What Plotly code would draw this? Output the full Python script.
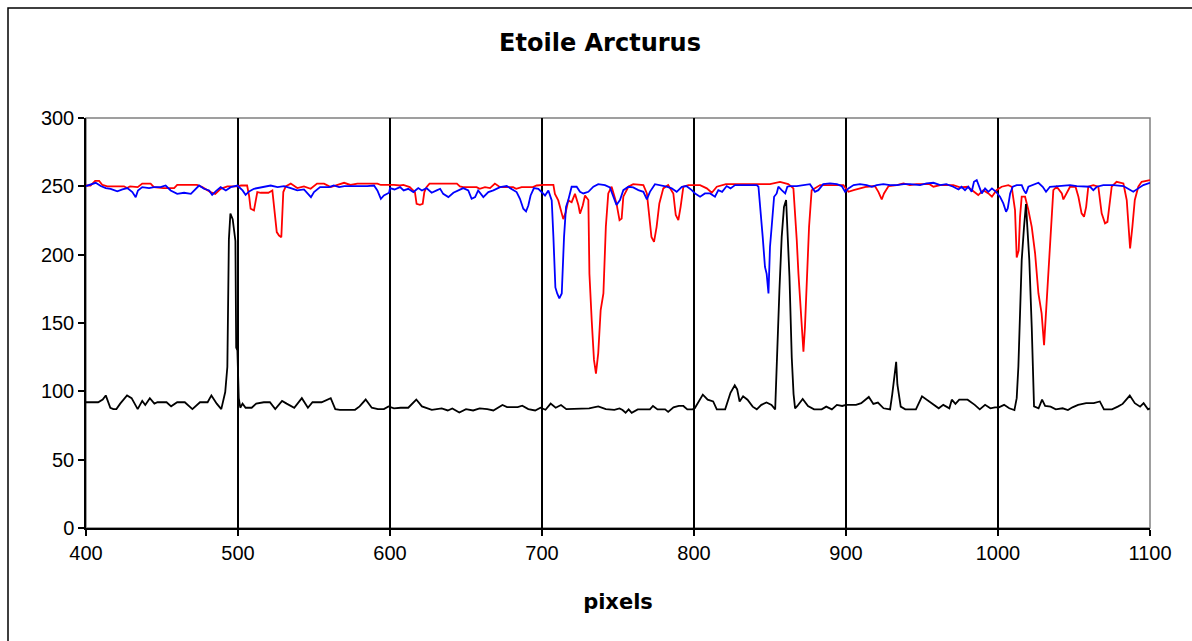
import plotly.graph_objects as go

# ---------------- data ----------------
black_x = [400, 404, 408, 411, 413, 416, 418, 420, 422.5, 427, 430, 434, 437, 439, 442, 445, 447, 453,
           456, 460, 465, 470, 475, 480, 482.5, 486, 489, 491.6, 493, 494, 495, 496.5, 497.6, 498.3,
           498.8, 499.6, 500.5, 501.5,
           503, 505, 509, 512, 517, 521, 524.5, 529, 532, 537, 542, 546, 549, 555, 561, 564, 567, 577,
           580, 584, 588, 592, 596, 599, 602.6, 607, 612, 617.3, 621, 627.5, 634, 638, 641, 645.6, 650,
           654.7, 659, 664, 668, 674, 677, 684, 687, 691, 695.5, 699, 702.3, 705.7, 709, 712.5, 716,
           720, 727, 731, 737, 742, 747.6, 751, 753, 755, 757, 759, 763, 771, 773, 776, 781, 783,
           786.5, 790, 793, 795.6, 799, 800.5, 805.8, 809, 812.6, 815, 820.5, 824, 826.8, 828.4, 830,
           832.3, 835.2, 838.6, 841.3, 844.3, 847.7, 851, 853.4, 854.9, 856.2, 857.7, 859.2, 860.6,
           861.4, 862.8, 864.3, 865.5, 866.5, 868, 871.5, 875, 879, 884, 887, 890.7, 894, 897.5, 900,
           906.6, 910, 915, 918, 921, 924.7, 929, 930.4, 932, 933, 933.8, 936, 939, 946, 950, 954,
           957.6, 961, 964, 968, 969.6, 972, 974.5, 980, 984.7, 988, 991.5, 995, 998, 1000.6, 1004,
           1007.4, 1010.8, 1012.3, 1013.4, 1014.5, 1015.6, 1017.1, 1018.4, 1019.3, 1020.6, 1022.2,
           1023.7, 1026.7, 1029, 1031, 1034.6, 1038, 1042.5, 1046, 1049, 1052.7, 1058, 1063, 1067,
           1069.7, 1075, 1078.8, 1082, 1086.7, 1090, 1093.5, 1095.8, 1098.7, 1100]
black_y = [92, 92, 92, 94, 97, 88, 87, 87, 91, 97, 95, 87, 93, 90, 95, 91, 92, 92,
           89, 92, 92, 87, 92, 92, 97, 91, 87, 99.5, 118, 211, 230, 226, 213, 210,
           132, 130, 95, 88,
           91, 88, 88, 91, 92, 92, 87, 93, 91, 88, 95, 88, 92, 92, 95, 87, 86.5, 86.5,
           89, 94, 88, 87, 87, 89, 87.5, 88, 88, 94, 89, 86.5, 87.5, 86, 87.5, 84.5, 87,
           86, 87.5, 87, 86, 90, 88.5, 88.5, 89.5, 87, 86, 88, 86.5, 91, 88, 90, 87,
           87, 87, 87.5, 89, 87, 86.5, 87.5, 86.3, 84.3, 86.8, 84.3, 86.8, 86.8, 89.3, 86.8, 86.8, 85,
           88.3, 89.3, 89.3, 86.8, 86.8, 87.6, 97.6, 93.9, 92.6, 86.8, 86.8, 98.9, 104.4, 101.4, 92.6,
           96.4, 93.9, 88.8, 86.8, 90.1, 91.8, 90.1, 86.8, 140, 174, 213, 235, 240,
           223, 184, 125, 98, 87.5, 89.3, 94.4, 89.3, 86.8, 86.8, 88.8, 86.8, 90.1, 89.3, 90.1,
           90.1, 91.3, 95.9, 90.8, 91.8, 87.6, 86.8, 97.6, 111.5, 121.6, 105, 88.8, 86.8, 86.8, 96.4, 93.4,
           90.1, 87.6, 90.1, 87.6, 93.9, 90.8, 93.9, 93.9, 90.1, 86.8, 90.1, 87.6, 88.3, 88.3, 90.1,
           87.6, 86.3, 95, 118, 152, 196, 220, 237, 220, 196, 147,
           89, 87.6, 93.9, 89.3, 88.8, 86.8, 87.6, 86.3, 88.3, 90.1, 91.3, 91.3, 92.6,
           86.8, 86.8, 88.8, 90.8, 96.9, 91.3, 88.8, 91.3, 86.8, 87.5]

red_x = [400, 403, 406, 408.6, 410.8, 414, 420, 425, 427, 429, 434, 437, 442.5, 444.7, 451, 458, 460,
         473, 476.5, 482, 485, 488.6, 493, 499.6, 502, 506, 507.3, 508.3, 510.5, 511.6, 512.7, 515,
         520, 522.6, 523.7, 525.5, 527, 528.5, 529.8, 531.4, 534.7, 539, 543.4, 547.8, 552, 556.6,
         561, 565, 569.8, 574, 578.5, 591.7, 594, 602.6, 606.6, 608.8, 613, 616.4, 617.5, 619.7,
         621.5, 622.6, 624, 626, 644, 646, 648, 657, 659, 662.5, 665.8, 669, 672.4, 681, 683, 686.6,
         694, 696.5, 701, 707.5, 708.5, 710.7, 713, 714, 715.6, 717.3, 719.5, 721.7, 724, 725,
         726.8, 728.3, 730.5, 731.2, 732.7, 734.2, 735.5, 737, 738.6, 740.4, 742, 743.6, 745.8,
         749, 751, 752.4, 753.5, 756.8, 760, 766.7, 769, 770.6, 772, 773.7, 775.4, 777.2, 779.8,
         783, 786.4, 788, 789.7, 791.2, 793, 796.3, 804, 808.4, 811.7, 815, 821, 837, 850, 856.6,
         862, 865.4, 866.5, 867.6, 868.7, 870.2, 871.5, 872, 873, 874.2, 875.7, 877.4, 879.6, 883,
         898.3, 901.6, 905, 909.2, 913.6, 919, 921.3, 923.5, 925, 928, 933.4, 937.8, 942, 946.5,
         955, 957.5, 962, 970.6, 975, 980, 983.8, 987, 990.4, 993.7, 996, 999, 1002.4, 1006.8,
         1009, 1011.2, 1012.3, 1013.6, 1014.5, 1015.6, 1017.8, 1020, 1022.2, 1024.4, 1026.6,
         1028.7, 1030.3, 1031.6, 1033.1, 1034.7, 1036.4, 1038.6, 1042, 1043, 1045.2, 1047.4, 1051,
         1052.9, 1055, 1056.6, 1058, 1059.4, 1062.7, 1066, 1068.2, 1070.4, 1072, 1073.7, 1074.8,
         1078, 1082.5, 1084.7, 1085.8, 1086.9, 1088.4, 1090, 1092.3, 1094.5, 1100]
red_y = [250.6, 250.6, 254, 254, 251, 250, 250, 250, 248.7, 250, 249.4, 252, 252, 249.4, 248.7, 248.7, 251,
         251, 249.4, 245.8, 244.5, 248.2, 250, 250, 250.6, 250.6, 243, 233.6, 232.4, 241, 245.8, 245.3,
         245.3, 247, 236, 216.5, 214, 212.8, 245.8, 250, 252, 248.7, 250, 248.2, 252, 252,
         249.4, 251, 252.6, 251, 252, 252, 251, 251, 250.6, 251, 249.4, 245.8, 237.2, 236.5,
         237.2, 245.8, 249.4, 252, 252, 250, 249.4, 249.4, 248.2, 249.4, 248.7, 252, 249.4, 249.4, 248.2, 249.4,
         249.4, 250.6, 251, 251, 244.5, 239.7, 231, 226, 231, 239.7, 238.4, 244.5, 236, 230,
         236, 243.3, 240, 186, 152, 123, 113, 128, 159.5, 171.6, 220.4, 244.8, 249.7,
         237.5, 225.3, 226.5, 242.4, 249.7, 251.6, 250.9, 244.8, 225.3, 213, 209.4, 220.4, 237.5, 248.5,
         250.9, 244.8, 229, 225.3, 235, 249.7, 250.9, 250.9, 248.5, 245.3, 249.7, 251.6, 251.6, 251.6, 253.3,
         251.6, 248.5, 232.6, 210.7, 186.3, 157, 140, 129, 147, 184, 220.4, 247.2, 248.5, 250.9,
         250.9, 246, 247.2, 248.5, 249.7, 250.2, 246, 240.4, 244.8, 250.2, 250.9, 252.1, 250.9, 251.6,
         251.6, 249.7, 250.9, 250.9, 249.2, 249.7, 246, 243.6, 247.2, 244.8, 242.4, 247.2, 249.7, 250.9,
         249.7, 232.6, 198, 203, 227.7, 242.4, 242.4, 232.6, 220.4, 201, 171.6,
         157, 133.8, 159.5, 191, 222.9, 247.2, 249.7, 244.8, 240.4, 244.8, 249.7, 249.7,
         242.4, 230.2, 227.7, 235, 249.7, 250.9, 249.7, 230.2, 222.9, 224, 237.5, 249.7,
         253.3, 252.1, 240, 220.4, 204.6, 220.4, 240, 249.7, 253.3, 254.5]

blue_x = [400, 403, 406.4, 409.7, 413, 416.2, 420.6, 424, 427.2, 430.5, 432.7, 434.2, 437, 441.5, 444.7,
          449, 452.4, 455.7, 460, 464.5, 469, 474.4, 477.6, 481, 483, 485.3, 488.6, 492, 495.2, 499.6,
          503, 505, 507.3, 510.5, 515, 521.5, 526, 530.3, 534.7, 539, 543.4, 548, 550, 554, 560, 563,
          566.5, 570, 585, 589.5, 591.7, 594, 596, 599.4, 600, 603, 606.6, 609, 612, 615.4, 618.6,
          621, 624, 627.4, 630.7, 633, 635, 638.4, 641.7, 645, 648.2, 651.5, 653.7, 656, 658, 661.4,
          664.7, 668, 672.4, 676.8, 680, 683.3, 685.5, 687.7, 689.5, 691, 692.5, 694.7, 697.6, 699.8,
          702, 704.2, 706.4, 707.5, 708.8, 710, 711.4, 713, 713.6, 714.5, 715.8, 717.3, 719.5, 722.8,
          725, 727.2, 730.5, 733.8, 737, 741.4, 744.7, 747.4, 749, 751.3, 753.5, 756.8, 760, 763.4,
          766.7, 769, 771, 774.3, 777.6, 782, 785.3, 788.6, 792, 795, 798.5, 800.7, 804, 807.2,
          810.6, 813.8, 816, 818.5, 821.5, 824, 827, 830.3, 841.3, 842.4, 843.9, 845.2, 846.7, 847.8,
          849, 850, 851.1, 852.7, 854.4, 855.5, 857.7, 860, 861.4, 863.2, 867.6, 872, 876.3, 879.6,
          881.8, 885, 889.5, 894, 897.2, 899.4, 901.6, 905, 909.2, 913.6, 917, 920.2, 924.6, 929,
          933.4, 938, 942.1, 948.7, 953, 957.5, 962, 966, 970.6, 974, 976, 978.3, 980.5, 982.7, 984.2,
          986, 987.7, 989.3, 991.5, 993.7, 996, 998.7, 1001.3, 1003.5, 1005.3, 1006.4, 1008, 1009.7,
          1012.3, 1015.6, 1017, 1018.4, 1020, 1023.3, 1026.6, 1029.4, 1031.6, 1034.2, 1038.6, 1043,
          1047.4, 1051.8, 1056, 1060.5, 1062.7, 1065, 1069.3, 1076, 1082.5, 1086.9, 1089, 1092.3,
          1095.6, 1100]
blue_y = [250.2, 251.1, 252.6, 250.2, 248.7, 248.2, 246.3, 247.7, 248.7, 245.8, 242.1, 247, 249.4, 248.7, 249.4,
          249.4, 250.6, 247, 244.5, 245.3, 244.5, 250.6, 248.2, 247, 243.8, 246.3, 249.4, 247, 249.4, 250.6,
          247, 243.8, 246.3, 248.2, 249.4, 250.6, 249.4, 250.2, 248.7, 247, 247.7, 242.1, 245.8, 249.4, 249.4, 250.6,
          249.4, 250.2, 250.2, 250.6, 247, 240.9, 243.3, 245.3, 248.7, 247.7, 249.4, 247, 248.2, 245.8, 248.7,
          247, 248.7, 245.3, 247, 248.2, 244.5, 242.1, 245.3, 247, 248.7, 247, 240.9, 242.1, 247, 242.1,
          245.8, 247, 249.4, 250.2, 248.2, 245.8, 240.9, 233.6, 231.6, 236, 243.3, 248.7, 248.2, 245.8,
          243.3, 247, 239.7, 213, 176, 171.6, 168, 171.6, 196, 213, 235, 240, 249.7, 249.7,
          246, 244.8, 246, 249.7, 251.6, 250.9, 249.2, 240, 236.3, 240, 247.2, 249.7, 249.2, 247.2,
          246, 240.4, 246, 251.6, 250.9, 249.7, 248.5, 246, 249.7, 250.2, 247.2, 244.8, 242.4, 244.8,
          244.8, 242.4, 247.2, 246, 250.2, 248.5, 250.9, 250.9, 250.9, 249.7, 232.6, 213, 191, 186,
          171.6, 205.8, 220.4, 242.4, 244.8, 249.7, 247.2, 244.8, 249.7, 250.2, 250.2, 250.9, 251.6, 246,
          247.2, 251.6, 252.1, 251.6, 250.2, 246, 248.5, 250.9, 251.6, 250.9, 249.7, 250.9, 251.6, 250.9,
          250.9, 251.6, 251.6, 250.9, 252.1, 252.6, 250.9, 251.6, 249.7, 247.7, 249.7, 247.2, 249.7, 246, 253.3,
          254.6, 249.7, 244.8, 248.5, 246, 248.5, 246, 242.4, 237.5, 231.4, 233.8, 244.8, 249.7,
          250.9, 250.9, 247.2, 244.8, 249.7, 250.9, 252.6, 249.7, 246, 249.7, 250.2, 250.9,
          250.9, 250.2, 250.2, 249.7, 247.2, 249.7, 250.9, 250.9, 250.2, 247.2, 246, 248.5,
          250.9, 252.6]

x_ticks = [400, 500, 600, 700, 800, 900, 1000, 1100]
y_ticks = [0, 50, 100, 150, 200, 250, 300]

title_text = "Etoile Arcturus"
x_title = "pixels"

# ---------------- figure ----------------
FONT = "Arial, 'Liberation Sans', sans-serif"
BOLD_FONT = "'DejaVu Sans', Verdana, sans-serif"
W, H = 1192, 641
L, R, T, B = 86, 42, 118, 113

fig = go.Figure()
fig.add_trace(go.Scatter(x=red_x, y=red_y, mode="lines", line=dict(color="#ff0000", width=1.8),
                         name="red", hoverinfo="x+y"))
fig.add_trace(go.Scatter(x=blue_x, y=blue_y, mode="lines", line=dict(color="#0000ff", width=1.8),
                         name="blue", hoverinfo="x+y"))
fig.add_trace(go.Scatter(x=black_x, y=black_y, mode="lines", line=dict(color="#000000", width=1.8),
                         name="black", hoverinfo="x+y"))

pw, ph = W - L - R, H - T - B


def px2paper_x(px):
    return (px - L) / pw


def px2paper_y(py):
    return (H - B - py) / ph


shapes = [
    # gray plot-area border
    dict(type="rect", xref="paper", yref="paper", x0=0, x1=1, y0=0, y1=1,
         line=dict(color="#808080", width=1.5), layer="below"),
    # outer chart-area border (only left/top visible)
    dict(type="rect", xref="paper", yref="paper",
         x0=px2paper_x(8), x1=px2paper_x(W + 20), y0=px2paper_y(H + 20), y1=px2paper_y(8),
         line=dict(color="#000000", width=1.5), layer="below"),
]

fig.update_layout(
    width=W, height=H,
    margin=dict(l=L, r=R, t=T, b=B, pad=0),
    paper_bgcolor="white", plot_bgcolor="white",
    showlegend=False,
    font=dict(family=FONT, color="black", size=20),
    title=dict(text=f"<b>{title_text}</b>", x=600 / W, xref="container", xanchor="center",
               y=1 - 43 / H, yref="container", yanchor="middle",
               font=dict(family=BOLD_FONT, size=24, color="black")),
    xaxis=dict(range=[400, 1100], tickvals=x_ticks, ticktext=[str(v) for v in x_ticks],
               showgrid=True, gridcolor="black", gridwidth=1.5,
               showline=True, linecolor="black", linewidth=1.5,
               ticks="outside", ticklen=6, tickcolor="black", tickwidth=1.5,
               zeroline=False, tickfont=dict(size=20),
               title=dict(text=f"<b>{x_title}</b>", font=dict(family=BOLD_FONT, size=21), standoff=32)),
    yaxis=dict(range=[0, 300], tickvals=y_ticks, ticktext=[str(v) for v in y_ticks],
               showgrid=False, showline=True, linecolor="black", linewidth=1.5,
               ticks="outside", ticklen=6, tickcolor="black", tickwidth=1.5,
               zeroline=False, tickfont=dict(size=20)),
    shapes=shapes,
)

fig.write_html("out.html", config={"displayModeBar": False},
               post_script="document.body.style.margin='0';document.body.style.overflow='hidden';")
